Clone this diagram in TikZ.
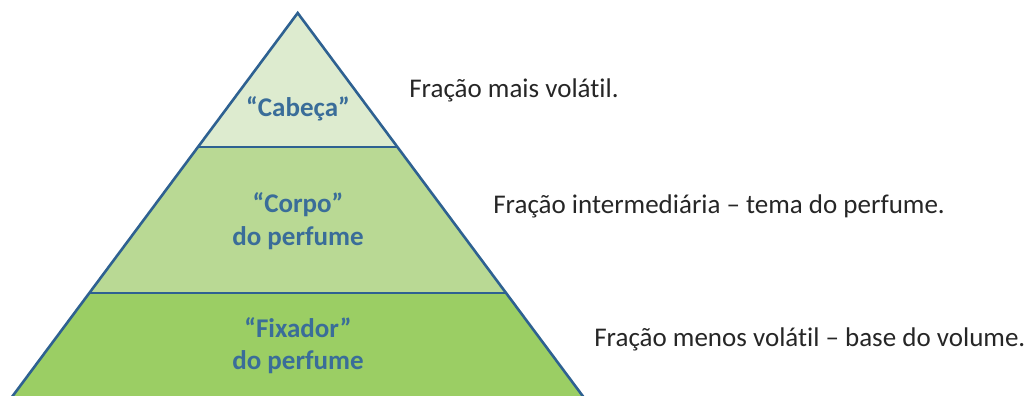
\documentclass[tikz,border=0pt]{standalone}
\usepackage{fontspec}
\setmainfont{Carlito}[Ligatures={TeX,NoCommon}]
\usetikzlibrary{positioning}
\usepackage{xcolor}
\definecolor{tieredge}{HTML}{2E6191}
\definecolor{headfill}{HTML}{DDEBCF}
\definecolor{bodyfill}{HTML}{B9D994}
\definecolor{basefill}{HTML}{9BCE64}
\definecolor{tiertext}{HTML}{3A6D99}
\definecolor{notetext}{HTML}{262626}

\begin{document}
\begin{tikzpicture}[x=1pt, y=-1pt, line width=2.6pt,
    tierlabel/.style={font=\bfseries\fontsize{27}{32.5}\selectfont, text=tiertext, align=center, inner sep=0pt, anchor=base},
    note/.style={font=\fontsize{27}{30}\selectfont, text=notetext, inner sep=0pt, anchor=base west}]
    \useasboundingbox (0,0) rectangle (1026,396);
    \coordinate (apex) at (297.7,13);
    \coordinate (headl) at (198,147);
    \coordinate (headr) at (397.4,147);
    \coordinate (bodyl) at (89.4,293);
    \coordinate (bodyr) at (506,293);
    \coordinate (basel) at (9.7,400);
    \coordinate (baser) at (585.7,400);

    \fill [headfill] (apex) -- (headl) -- (headr) -- cycle;
    \fill [bodyfill] (headl) -- (bodyl) -- (bodyr) -- (headr) -- cycle;
    \fill [basefill] (bodyl) -- (basel) -- (baser) -- (bodyr) -- cycle;
    \draw [tieredge, line join=miter] (basel) -- (apex) -- (baser);
    \draw [tieredge] (headl) -- (headr);
    \draw [tieredge] (bodyl) -- (bodyr);

    \node [tierlabel] (head) at (298,116.5) {“Cabeça”};
    \node [tierlabel] (body) at (298,245) {“Corpo” \\ do perfume};
    \node [tierlabel] (base) at (298,369.5) {“Fixador” \\ do perfume};

    \node [note] (headnote) at (408,97) {Fração mais volátil.};
    \node [note] (bodynote) at (492,213) {Fração intermediária – tema do perfume.};
    \node [note] (basenote) at (593,346) {Fração menos volátil – base do volume.};
\end{tikzpicture}
\end{document}
